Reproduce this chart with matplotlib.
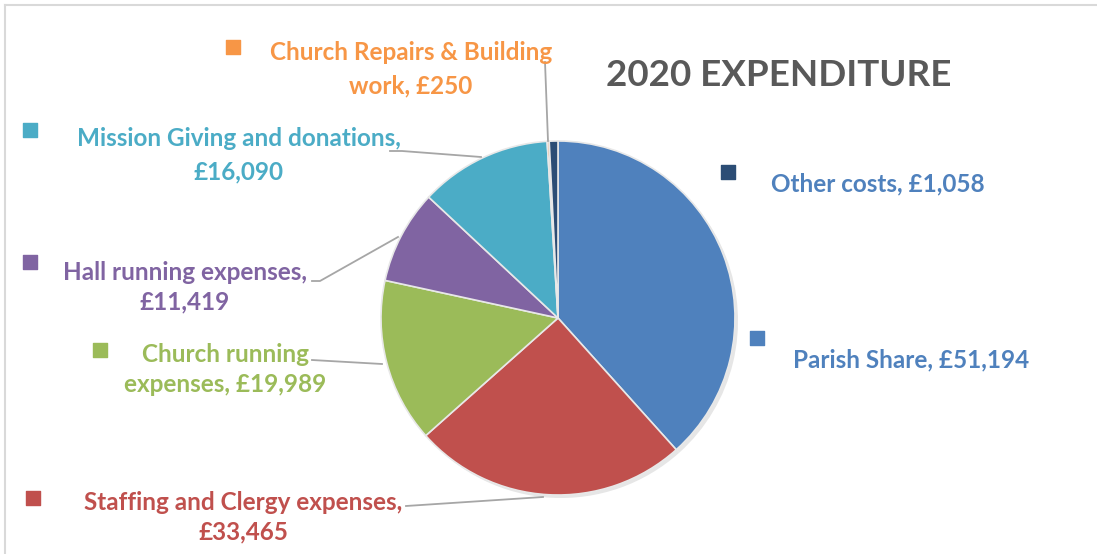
import matplotlib.pyplot as plt
from matplotlib.lines import Line2D

# data
categories = ['Parish Share', 'Staffing and Clergy expenses', 'Church running expenses',
              'Hall running expenses', 'Mission Giving and donations',
              'Church Repairs & Building work', 'Other costs']
values = [51194, 33465, 19989, 11419, 16090, 250, 1058]
colors = ['#4F81BD', '#C0504D', '#9BBB59', '#8064A2', '#4BACC6', '#F79646', '#2C4D75']
label_lines = [['Parish Share, £51,194'],
               ['Staffing and Clergy expenses,', '£33,465'],
               ['Church running', 'expenses, £19,989'],
               ['Hall running expenses,', '£11,419'],
               ['Mission Giving and donations,', '£16,090'],
               ['Church Repairs & Building', 'work, £250'],
               ['Other costs, £1,058']]
label_colors = ['#4F81BD', '#C0504D', '#9BBB59', '#8064A2', '#4BACC6', '#F79646', '#4F81BD']

W, H = 1097, 554
fig = plt.figure(figsize=(W / 100, H / 100), dpi=100)
ax = fig.add_axes([0, 0, 1, 1])

def Y(y):
    return H - y

# border (top and left visible)
ax.add_line(Line2D([5, 5], [Y(554), Y(5)], color='#d9d9d9', lw=1.5))
ax.add_line(Line2D([5, W], [Y(5), Y(5)], color='#d9d9d9', lw=1.5))

cx, cy, r = 558, 318, 177
# soft shadow
ax.pie(values, colors=['#e6e6e6'] * len(values), startangle=90, counterclock=False,
       center=(cx + 3, Y(cy) - 3), radius=r, wedgeprops=dict(linewidth=0), frame=True)
ax.pie(values, colors=colors, startangle=90, counterclock=False,
       center=(cx, Y(cy)), radius=r,
       wedgeprops=dict(edgecolor='#e8e8e8', linewidth=1.2), frame=True)
ax.set_xlim(0, W)
ax.set_ylim(0, H)
ax.set_aspect('equal')
ax.axis('off')

font = 'Lato'
fs = 17.5

# label placement: square centre, text centre x, line centre y's
squares = [(757, 338), (33, 498), (100, 350), (30, 262), (30, 130), (233, 47), (728, 172)]
text_x = [911, 243, 225, 185, 239, 411, 878]
text_y = [[358], [500, 530], [352, 382], [270, 300], [137, 170], [50, 84], [182]]
for i in range(len(values)):
    sx, sy = squares[i]
    ax.scatter([sx], [Y(sy)], marker='s', s=110, color=colors[i], zorder=5)
    for line, ty in zip(label_lines[i], text_y[i]):
        ax.text(text_x[i], Y(ty), line, color=label_colors[i], fontsize=fs,
                fontweight='bold', family=font, ha='center', va='center_baseline', zorder=5)

# leader lines
leaders = [
    [(545, 62), (548, 141)],
    [(390, 151), (402, 151), (481, 157)],
    [(312, 281), (320, 281), (398, 237)],
    [(312, 360), (382, 364)],
    [(406, 506), (543, 497)],
]
for pts in leaders:
    ax.plot([p[0] for p in pts], [Y(p[1]) for p in pts], color='#a6a6a6', lw=1.3, zorder=4)

ax.text(779, Y(72), '2020 EXPENDITURE', color='#595959', fontsize=26.5,
        fontweight='bold', family=font, ha='center', va='center_baseline')

fig.savefig('out.png', dpi=100)
